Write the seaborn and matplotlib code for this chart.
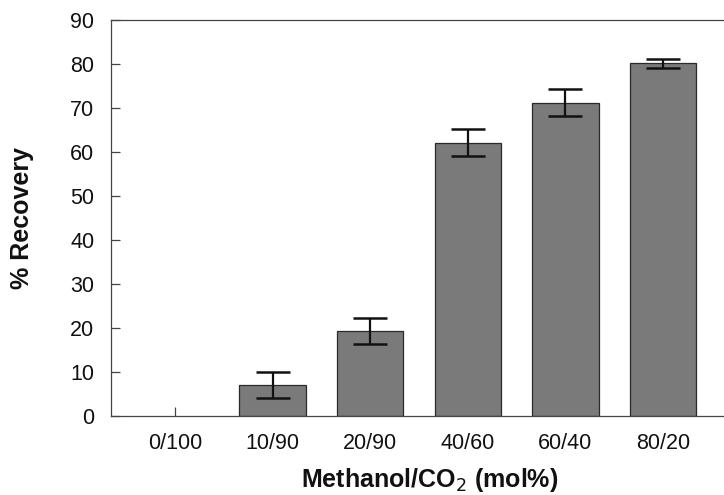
import numpy as np
import pandas as pd
import matplotlib
matplotlib.use("Agg")
import matplotlib.pyplot as plt
import seaborn as sns

categories = ["0/100", "10/90", "20/90", "40/60", "60/40", "80/20"]
recovery = [0.0, 7.0, 19.3, 62.2, 71.3, 80.3]
errors = [0.0, 3.0, 3.0, 3.0, 3.0, 1.0]
yticks = [0, 10, 20, 30, 40, 50, 60, 70, 80, 90]

sns.set_theme(style="white")
plt.rcParams['font.family'] = ['Liberation Sans', 'DejaVu Sans']

df = pd.DataFrame({"ratio": categories, "recovery": recovery, "err": errors})

fig = plt.figure(figsize=(7.24, 4.95), dpi=100)
ax = fig.add_axes([0.1533, 0.1596, 0.8467, 0.799])

sns.barplot(data=df, x="ratio", y="recovery", order=categories, color="#7a7a7a",
            saturation=1, width=0.68, edgecolor="#2a2a2a", linewidth=0.9, ax=ax)
for p in ax.patches:
    if p.get_height() == 0:
        p.set_linewidth(0)

pos = np.arange(len(categories))
mask = df["err"].to_numpy() > 0
ax.errorbar(pos[mask], df["recovery"].to_numpy()[mask], yerr=df["err"].to_numpy()[mask],
            fmt="none", ecolor="#111111", elinewidth=1.6, capsize=12, capthick=1.8, zorder=3)

ax.set_axisbelow(True)
ax.set_xlim(-0.656, 5.625)
ax.set_ylim(0, 90)
ax.set_yticks(yticks)
ax.set_yticklabels([str(t) for t in yticks])

for s in ["left", "top", "bottom"]:
    ax.spines[s].set_visible(True)
    ax.spines[s].set_color("#444444")
    ax.spines[s].set_linewidth(0.9)
ax.spines["right"].set_visible(False)

ax.tick_params(axis="both", direction="in", length=6.5, width=0.9, color="#444444",
               labelsize=15.5, pad=12, labelcolor="#111111")
ax.tick_params(axis="x", bottom=True)
ax.tick_params(axis="y", left=True)

ax.set_xlabel("Methanol/CO$_2$ (mol%)", fontsize=18, fontweight="bold", labelpad=9, color="#111111")
ax.set_ylabel("% Recovery", fontsize=18, fontweight="bold", labelpad=26, color="#111111")
ax.xaxis.label.set_position((0.52, 0))

fig.savefig("out.png", dpi=100)
